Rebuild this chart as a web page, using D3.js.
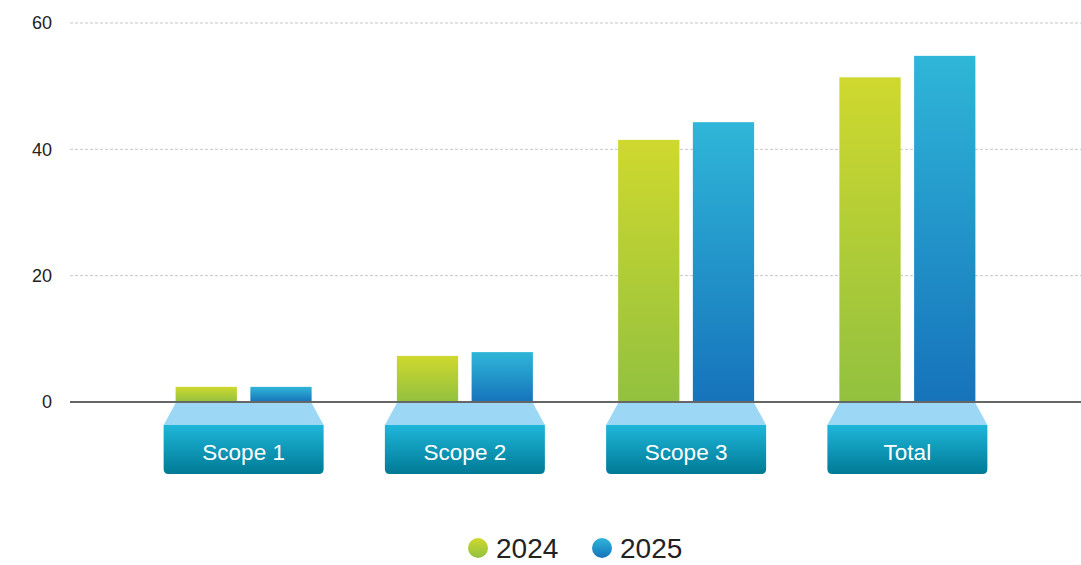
<!DOCTYPE html>
<html>
<head>
<meta charset="utf-8">
<script src="https://cdn.jsdelivr.net/npm/d3@7"></script>
<style>
  body { margin: 0; background: #fff; }
  svg { display: block; font-family: "Liberation Sans", Arial, sans-serif; }
</style>
</head>
<body>
<div id="chart"></div>
<script>
const categories = ["Scope 1", "Scope 2", "Scope 3", "Total"];
const years = ["2024", "2025"];
const values2024 = [2.4, 7.3, 41.5, 51.4];
const values2025 = [2.4, 7.9, 44.3, 54.8];
const yTicks = [0, 20, 40, 60];

const width = 1081;
const height = 565;

const svg = d3.select("#chart").append("svg")
    .attr("width", width)
    .attr("height", height);

const defs = svg.append("defs");

// bar gradients, one per series
function vGrad(id, top, bottom) {
    const g = defs.append("linearGradient")
        .attr("id", id)
        .attr("x1", 0).attr("y1", 0).attr("x2", 0).attr("y2", 1);
    g.append("stop").attr("offset", "0%").attr("stop-color", top);
    g.append("stop").attr("offset", "100%").attr("stop-color", bottom);
}
vGrad("g2024", "#cfd82e", "#92c13f");
vGrad("g2025", "#2fb6d8", "#1673bb");
vGrad("gLabel", "#1fb6da", "#007a95");

const y = d3.scaleLinear().domain([0, 60]).range([402, 23]);
const x = d3.scaleBand().domain(categories).range([133, 1018]);
const inner = d3.scaleBand().domain(years).range([-68, 68]).paddingInner(0.18);

// grid lines
svg.append("g")
    .selectAll("line")
    .data(yTicks.filter(d => d !== 0))
    .enter().append("line")
    .attr("x1", 70).attr("x2", width)
    .attr("y1", d => y(d)).attr("y2", d => y(d))
    .attr("stroke", "#c8c8c8")
    .attr("stroke-width", 1)
    .attr("stroke-dasharray", "3,2");

// y axis labels
const yAxis = svg.append("g")
    .attr("transform", "translate(52,0)")
    .call(d3.axisLeft(y).tickValues(yTicks).tickSize(0).tickPadding(0));
yAxis.select(".domain").remove();
yAxis.selectAll("text")
    .attr("fill", "#222")
    .style("font-size", "18px")
    .style("font-family", "Liberation Sans, Arial, sans-serif");

// bars
const series = [
    { year: "2024", values: values2024, fill: "url(#g2024)" },
    { year: "2025", values: values2025, fill: "url(#g2025)" }
];

series.forEach(s => {
    svg.append("g")
        .selectAll("rect")
        .data(categories)
        .enter().append("rect")
        .attr("x", (d, i) => x(d) + x.bandwidth() / 2 + inner(s.year))
        .attr("width", inner.bandwidth())
        .attr("y", (d, i) => y(s.values[i]))
        .attr("height", (d, i) => y(0) - y(s.values[i]))
        .attr("fill", s.fill);
});

// zero line
svg.append("line")
    .attr("x1", 70).attr("x2", width)
    .attr("y1", y(0)).attr("y2", y(0))
    .attr("stroke", "#666")
    .attr("stroke-width", 2);

// category label tabs
const tab = svg.append("g")
    .selectAll("g")
    .data(categories)
    .enter().append("g")
    .attr("transform", d => `translate(${x(d) + x.bandwidth() / 2}, ${y(0) + 1})`);

tab.append("path")
    .attr("d", "M-68,0 L68,0 L80,22 L-80,22 Z")
    .attr("fill", "#9cd8f6");

tab.append("path")
    .attr("d", "M-80,22 L80,22 L80,66 Q80,71 75,71 L-75,71 Q-80,71 -80,66 Z")
    .attr("fill", "url(#gLabel)");

tab.append("text")
    .attr("y", 57)
    .attr("text-anchor", "middle")
    .attr("fill", "#fff")
    .style("font-size", "22.5px")
    .text(d => d);

// legend
const legend = svg.append("g")
    .selectAll("g")
    .data(series)
    .enter().append("g")
    .attr("transform", (d, i) => `translate(${478 + i * 124}, 548)`);

legend.append("circle")
    .attr("r", 10)
    .attr("fill", d => d.fill);

legend.append("text")
    .attr("x", 18)
    .attr("y", 10)
    .attr("fill", "#222")
    .style("font-size", "28px")
    .text(d => d.year);
</script>
</body>
</html>
